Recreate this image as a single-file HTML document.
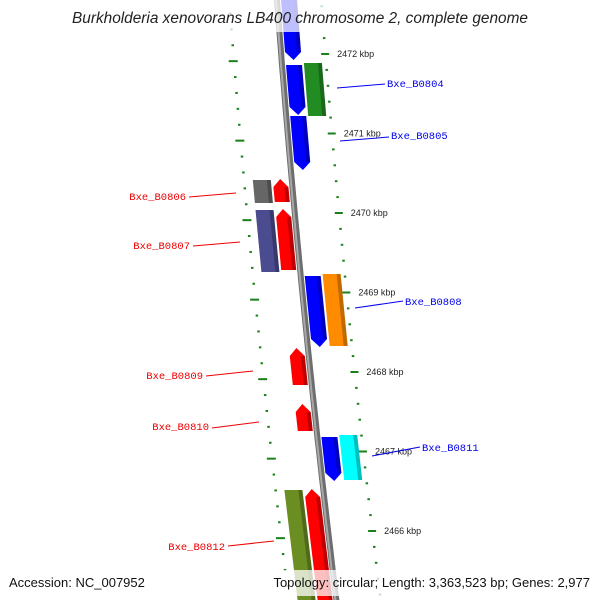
<!DOCTYPE html>
<html><head><meta charset="utf-8"><style>
html,body{margin:0;background:#fff;overflow:hidden;width:600px;height:600px}
svg{display:block}
.t{font-family:"Liberation Sans",sans-serif}
.lbl{font-family:"Liberation Mono","DejaVu Sans Mono",monospace;font-size:10.5px}
</style></head><body>
<svg id="map" width="600" height="600" viewBox="0 0 600 600">
<g id="ticks"></g>
<g id="backbone"></g>
<g id="genes"></g>
<g id="labels"></g>
<rect x="0" y="0" width="600" height="32" fill="#fff" opacity="0.75"/>
<text x="300" y="23" text-anchor="middle" class="t" font-size="15.4" font-style="italic" fill="#222">Burkholderia xenovorans LB400 chromosome 2, complete genome</text>
<rect x="0" y="570" width="600" height="26" fill="#fff" opacity="0.75"/>
<text x="9" y="587" class="t" font-size="13" fill="#111">Accession: NC_007952</text>
<text x="590" y="587" text-anchor="end" class="t" font-size="13" fill="#111">Topology: circular; Length: 3,363,523 bp; Genes: 2,977</text>
</svg>
<script>
const geneNames=["","Bxe_B0804","","Bxe_B0805","Bxe_B0806","","Bxe_B0807","","Bxe_B0808","","Bxe_B0809","Bxe_B0810","Bxe_B0811","","Bxe_B0812","",""];
const geneStart=[2472930,2471862,2471887,2471220,2470415,2470428,2470038,2470050,2469208,2469233,2468302,2467597,2467182,2467208,2466516,2466528,2465195];
const geneEnd=[2471925,2471233,2471220,2470541,2470126,2470138,2469258,2469283,2468314,2468327,2467836,2467258,2466629,2466642,2464700,2464700,2464700];
const geneLane=[1,1,2,1,-2,-1,-2,-1,1,2,-1,-1,1,2,-2,-1,-1];
const geneColor=["#0000ff","#0000ff","#228b22","#0000ff","#666666","#ff0000","#4b4b8f","#ff0000","#0000ff","#ff8c00","#ff0000","#ff0000","#0000ff","#00ffff","#6b8e23","#ff0000","#ff0000"];
const kbpTicks=[2472,2471,2470,2469,2468,2467,2466];
const NS="http://www.w3.org/2000/svg";
function yOf(bp){return 54+(2472000-bp)*0.0795;}
function xOf(y){return 277+0.075*y+0.00004*y*y;}
function pt(y,off){return [xOf(y)+off,y];}
function mk(tag,attrs,parent){const e=document.createElementNS(NS,tag);for(const k in attrs)e.setAttribute(k,attrs[k]);parent.appendChild(e);return e;}
const gT=document.getElementById('ticks'),gB=document.getElementById('backbone'),gG=document.getElementById('genes'),gL=document.getElementById('labels');
let pts=[];for(let y=-10;y<=610;y+=10){pts.push(xOf(y).toFixed(1)+','+y);}
let bb=mk('polyline',{points:pts.join(' '),fill:'none',stroke:'#6e6e6e','stroke-width':6},gB);


let bb2=mk('polyline',{points:pts.join(' '),fill:'none',stroke:'#a8a8a8','stroke-width':2,transform:'translate(-1,0)'},gB);


for(let bp=2473000;bp>=2464600;bp-=200){
  const major=(bp%1000===0);
  const y=yOf(bp);
  const r=mk('line',{x1:xOf(y)+44-(major?4:1),x2:xOf(y)+44+(major?4:1.5),y1:y,y2:y,stroke:'#1a801a','stroke-width':2},gT);
  
  
  const y2=yOf(bp-90);
  const l=mk('line',{x1:xOf(y2)-48-(major?5:1),x2:xOf(y2)-48+(major?4:1.5),y1:y2,y2:y2,stroke:'#1a801a','stroke-width':2},gT);
  
  
}
kbpTicks.forEach(k=>{const y=yOf(k*1000);
  const t=mk('text',{x:xOf(y)+56,y:y+3,'font-size':9,fill:'#222',class:'t'},gT);t.textContent=k+' kbp';
  
  });
const laneOff={1:[4,20],2:[22,40],'-1':[-19,-4],'-2':[-39,-21]};
function side(y,off){return pt(y,off);}
geneStart.forEach((s,i)=>{
  const y1=yOf(s),y2=yOf(geneEnd[i]);const [a,b]=laneOff[geneLane[i]];
  const lane=geneLane[i];const arrow=(Math.abs(lane)===1);const ah=8;const m=(a+b)/2;
  let poly=[];
  if(lane>0&&arrow){poly=[side(y1,a),side(y1,b),side(y2-ah,b),side(y2,m),side(y2-ah,a)];}
  else if(lane<0&&arrow){poly=[side(y1+ah,a),side(y1,m),side(y1+ah,b),side(y2,b),side(y2,a)];}
  else poly=[side(y1,a),side(y1,b),side(y2,b),side(y2,a)];
  const g=mk('polygon',{points:poly.map(p=>p[0].toFixed(1)+','+p[1].toFixed(1)).join(' '),fill:geneColor[i]},gG);
  
  
  const sh=[side(y1+(lane<0&&arrow?ah:0),b-4),side(y1+(lane<0&&arrow?ah:0),b),side(y2-(lane>0&&arrow?ah:0),b),side(y2-(lane>0&&arrow?ah:0),b-4)];
  const s2=mk('polygon',{points:sh.map(p=>p[0].toFixed(1)+','+p[1].toFixed(1)).join(' '),fill:'#000',opacity:0.25},gG);
  
  
});
const labelPos={"Bxe_B0804":[337,88,385,84,387,87,'start'],"Bxe_B0805":[340,141,389,137,391,139,'start'],"Bxe_B0806":[189,197,236,193,186,200,'end'],"Bxe_B0807":[193,246,240,242,190,249,'end'],"Bxe_B0808":[355,308,403,301,405,305,'start'],"Bxe_B0809":[206,376,253,371,203,379,'end'],"Bxe_B0810":[212,428,259,422,209,430,'end'],"Bxe_B0811":[372,456,420,447,422,451,'start'],"Bxe_B0812":[228,546,274,541,225,550,'end']};
geneNames.forEach((n,i)=>{if(!n)return;const p=labelPos[n];const c=geneLane[i]>0?'#0000ee':'#ee0000';
  const ln=mk('line',{x1:p[0],y1:p[1],x2:p[2],y2:p[3],stroke:c,'stroke-width':1},gL);
  
  
  const t=mk('text',{x:p[4],y:p[5],'text-anchor':p[6],fill:c,class:'lbl'},gL);t.textContent=n;
  
  });
</script>
</body></html>
